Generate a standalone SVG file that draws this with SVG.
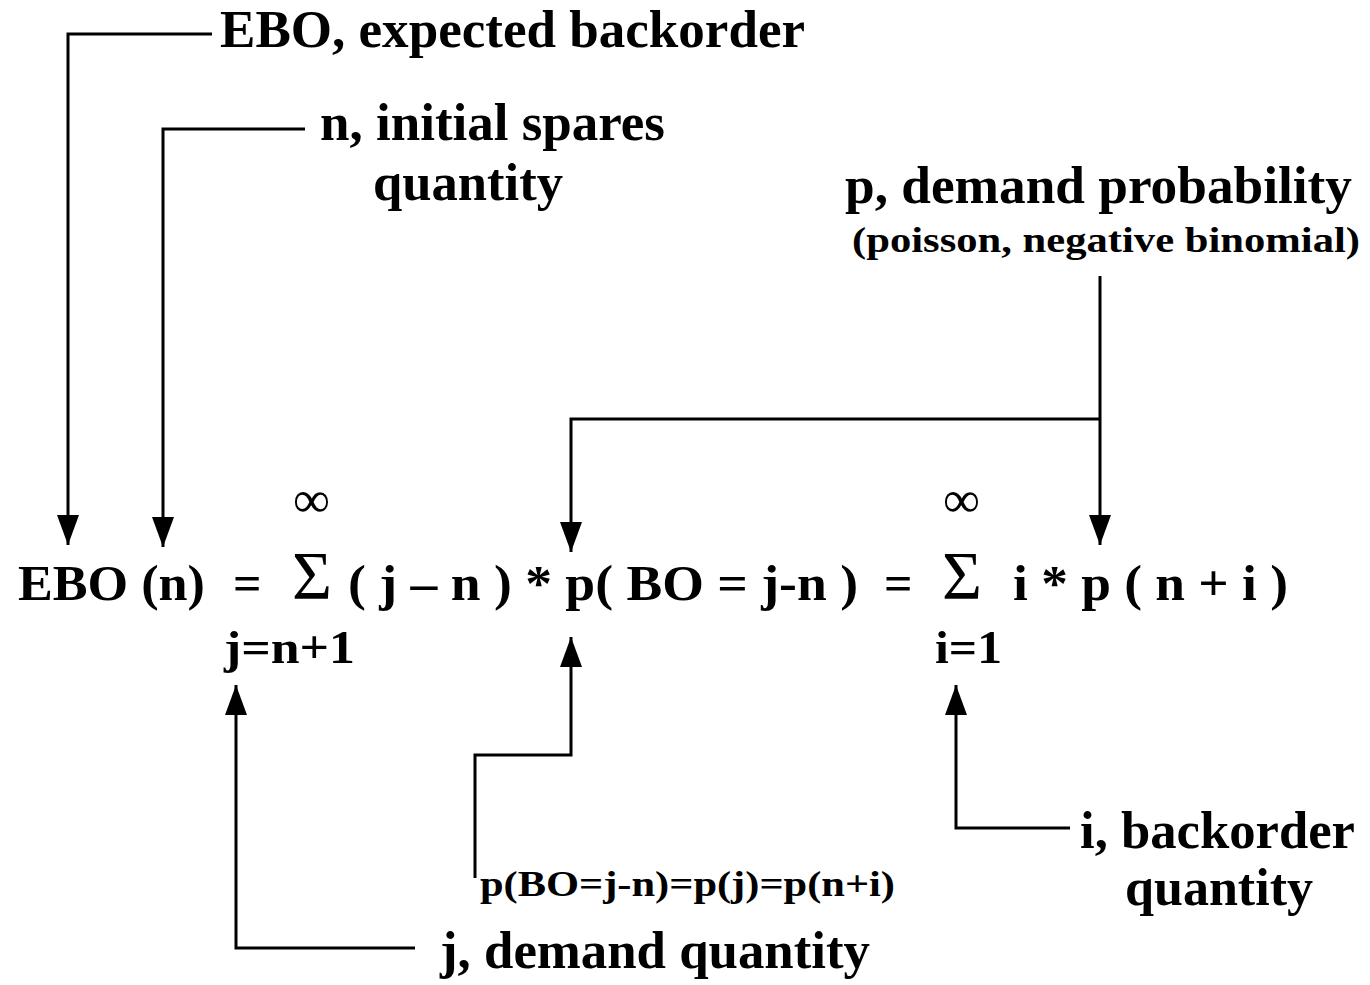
<svg xmlns="http://www.w3.org/2000/svg" width="1370" height="985" viewBox="0 0 1370 985">
  <style>
    text { font-family: "Liberation Serif", "Times New Roman", serif; font-weight: bold; fill: #000; }
    .lbl { font-size: 53px; }
    .sub { font-size: 36px; }
    .eq { font-size: 50px; }
    .lim { font-size: 47px; }
    .small { font-size: 36px; }
    .sym { font-weight: normal; }
    .sigma { font-size: 68px; }
    .inf { font-size: 52px; }
    .wire { fill: none; stroke: #000; stroke-width: 3; }
  </style>
  <defs>
    <marker id="arrow" viewBox="0 0 30 22" refX="30" refY="11" markerWidth="30" markerHeight="22" markerUnits="userSpaceOnUse" orient="auto">
      <path d="M0,0 L30,11 L0,22 z" fill="#000"/>
    </marker>
  </defs>

  <rect width="1370" height="985" fill="#fff"/>

  <!-- connectors -->
  <g id="connectors">
    <path class="wire" d="M212,34 H68 V545" marker-end="url(#arrow)"/>
    <path class="wire" d="M305,129 H163 V547" marker-end="url(#arrow)"/>
    <path class="wire" d="M1100,276 V545" marker-end="url(#arrow)"/>
    <path class="wire" d="M1100,419 H571 V552" marker-end="url(#arrow)"/>
    <path class="wire" d="M415,948 H236 V685" marker-end="url(#arrow)"/>
    <path class="wire" d="M475,878 V755 H571 V637" marker-end="url(#arrow)"/>
    <path class="wire" d="M1070,828 H956 V685" marker-end="url(#arrow)"/>
  </g>

  <!-- label nodes -->
  <g id="label-ebo">
    <text class="lbl" x="220" y="47" textLength="585" lengthAdjust="spacingAndGlyphs">EBO, expected backorder</text>
  </g>
  <g id="label-n">
    <text class="lbl" x="320" y="140" textLength="345" lengthAdjust="spacingAndGlyphs">n, initial spares</text>
    <text class="lbl" x="373" y="200" textLength="190" lengthAdjust="spacingAndGlyphs">quantity</text>
  </g>
  <g id="label-p">
    <text class="lbl" x="845" y="203" textLength="507" lengthAdjust="spacingAndGlyphs">p, demand probability</text>
    <text class="sub" x="852" y="252" textLength="508" lengthAdjust="spacingAndGlyphs">(poisson, negative binomial)</text>
  </g>
  <g id="label-j">
    <text class="lbl" x="440" y="968" textLength="430" lengthAdjust="spacingAndGlyphs">j, demand quantity</text>
  </g>
  <g id="label-pbo">
    <text class="small" x="480" y="896" textLength="415" lengthAdjust="spacingAndGlyphs">p(BO=j-n)=p(j)=p(n+i)</text>
  </g>
  <g id="label-i">
    <text class="lbl" x="1080" y="848" textLength="275" lengthAdjust="spacingAndGlyphs">i, backorder</text>
    <text class="lbl" x="1125" y="905" textLength="188" lengthAdjust="spacingAndGlyphs">quantity</text>
  </g>

  <!-- formula -->
  <g id="formula">
    <text class="eq" x="18" y="600" textLength="187" lengthAdjust="spacingAndGlyphs">EBO (n)</text>
    <text class="eq" x="233" y="600">=</text>
    <text class="sym sigma" x="292" y="598" textLength="40" lengthAdjust="spacingAndGlyphs">Σ</text>
    <text class="sym inf" x="293" y="517" textLength="37" lengthAdjust="spacingAndGlyphs">∞</text>
    <text class="eq" x="348" y="600" textLength="510" lengthAdjust="spacingAndGlyphs">( j – n ) * p( BO = j-n )</text>
    <text class="lim" x="224" y="663" textLength="131" lengthAdjust="spacingAndGlyphs">j=n+1</text>
    <text class="eq" x="884" y="600">=</text>
    <text class="sym sigma" x="942" y="598" textLength="40" lengthAdjust="spacingAndGlyphs">Σ</text>
    <text class="sym inf" x="943" y="517" textLength="37" lengthAdjust="spacingAndGlyphs">∞</text>
    <text class="eq" x="1013" y="600" textLength="275" lengthAdjust="spacingAndGlyphs">i * p ( n + i )</text>
    <text class="lim" x="935" y="663" textLength="67" lengthAdjust="spacingAndGlyphs">i=1</text>
  </g>
</svg>
